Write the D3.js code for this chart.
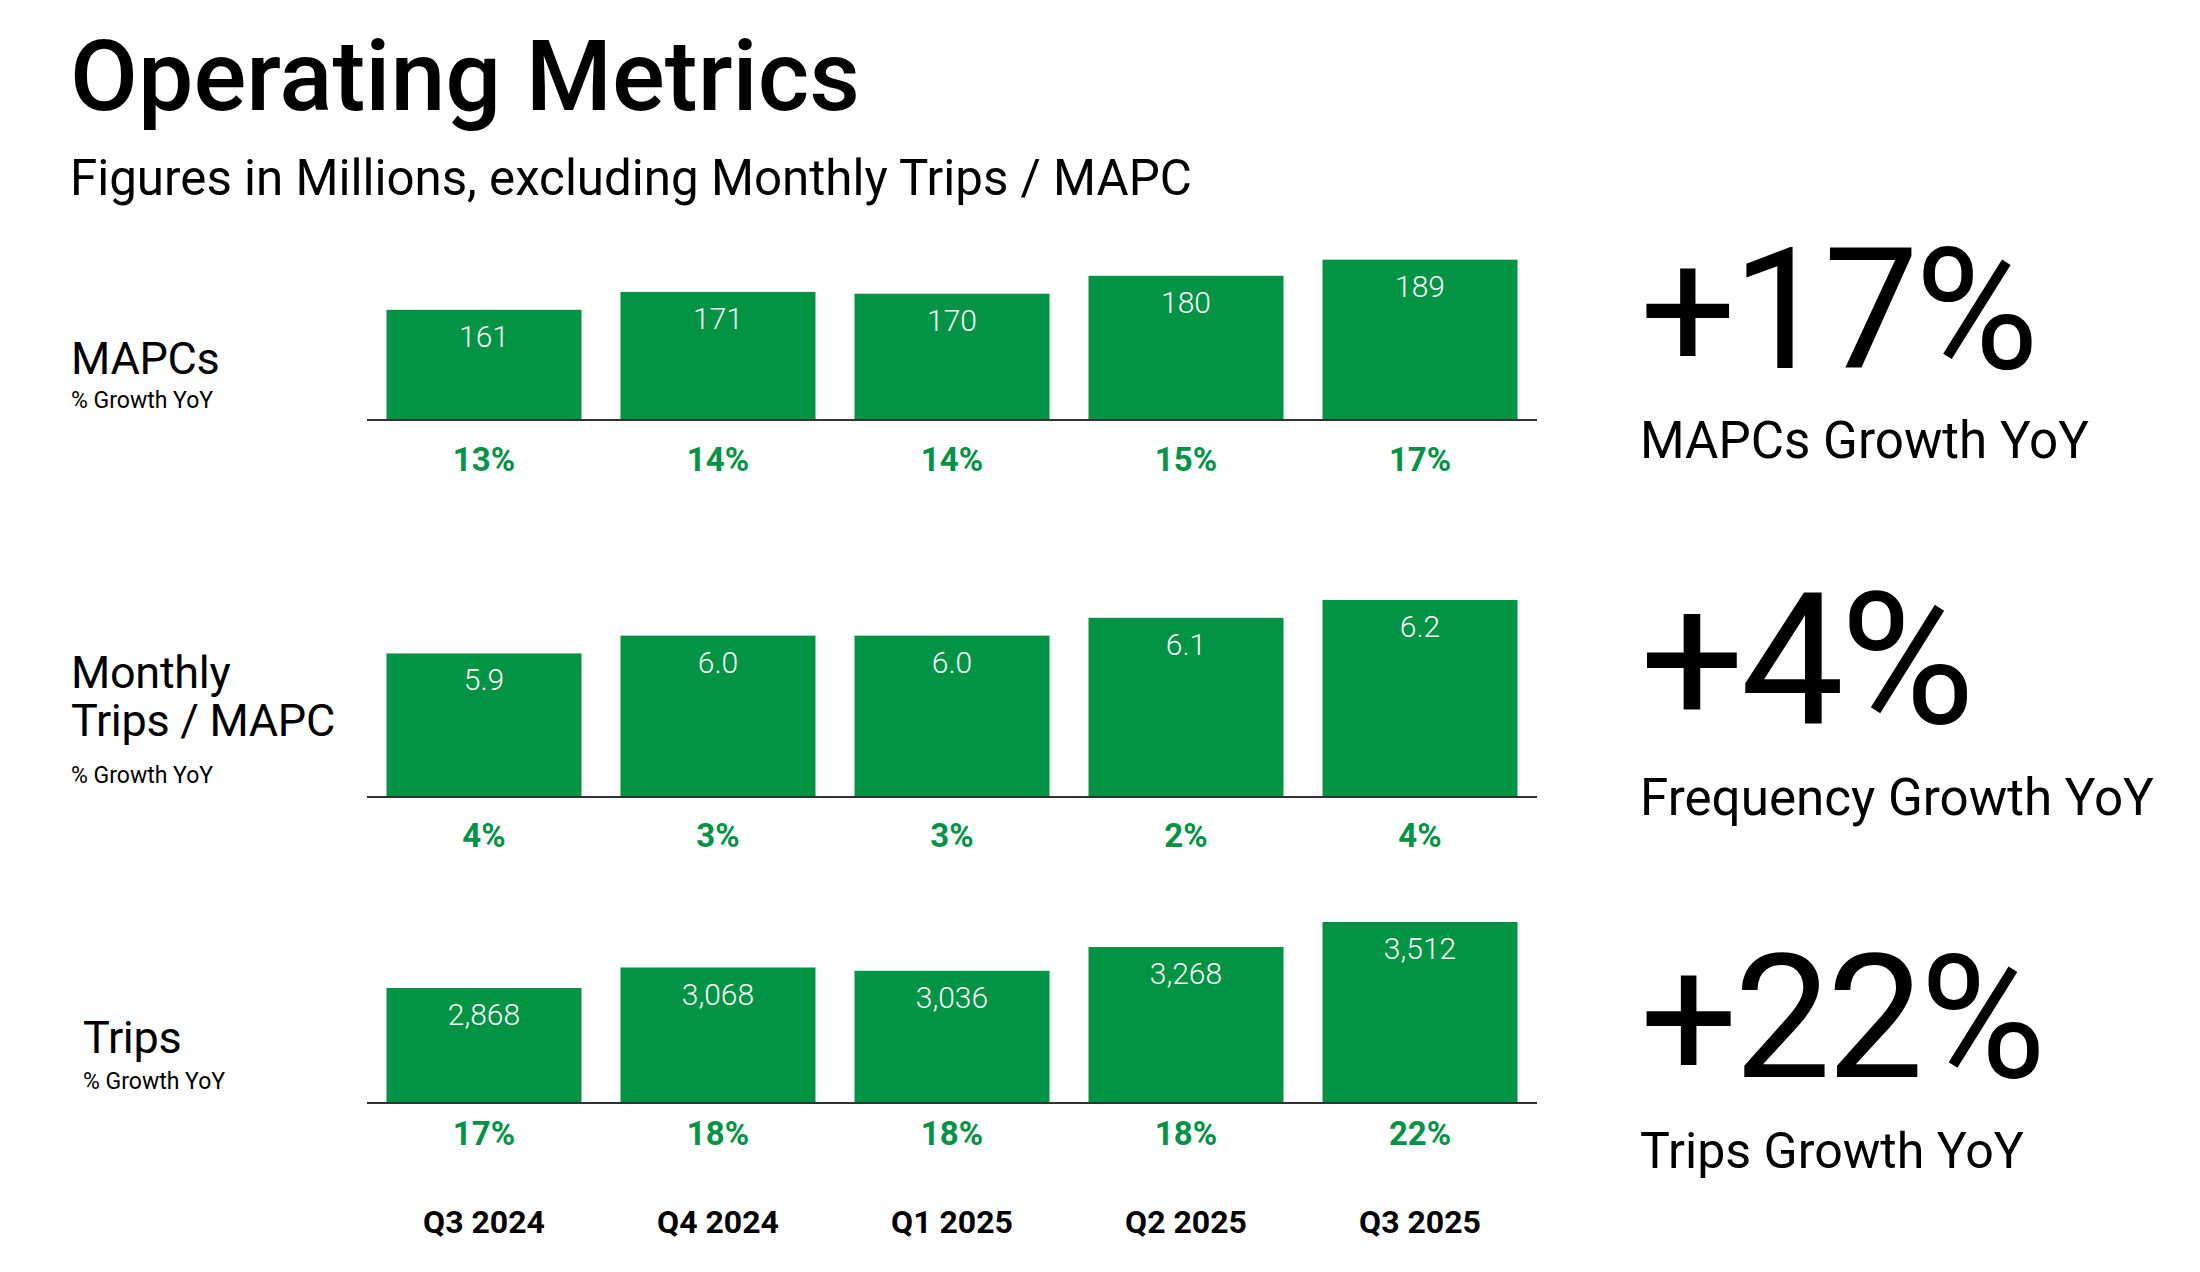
<!DOCTYPE html>
<html>
<head>
<meta charset="utf-8">
<script src="https://cdn.jsdelivr.net/npm/d3@7"></script>
<style>
  body { margin: 0; background: #fff; }
  svg { display: block; font-family: Roboto, "Noto Sans", sans-serif; }
</style>
</head>
<body>
<svg id="chart" width="2200" height="1272"></svg>
<script>
// data
const quarters = ["Q3 2024", "Q4 2024", "Q1 2025", "Q2 2025", "Q3 2025"];

const mapcs = [161, 171, 170, 180, 189];
const mapcsGrowth = ["13%", "14%", "14%", "15%", "17%"];

const tripsPerMapc = [5.9, 6.0, 6.0, 6.1, 6.2];
const tripsPerMapcGrowth = ["4%", "3%", "3%", "2%", "4%"];

const trips = [2868, 3068, 3036, 3268, 3512];
const tripsGrowth = ["17%", "18%", "18%", "18%", "22%"];

const headlineValues = ["+17%", "+4%", "+22%"];
const headlineLabels = ["MAPCs Growth YoY", "Frequency Growth YoY", "Trips Growth YoY"];

const green = "#009444";

let svg = d3.select("#chart");

// shrink / grow a text so it covers the width it has on the slide
var fit = (sel, w) => {
    sel.each(function () {
        let len = this.getComputedTextLength();
        let fs = parseFloat(d3.select(this).attr("font-size"));
        d3.select(this).attr("font-size", fs * w / len);
    });
};

// title block
svg.append("text")
    .attr("x", 70).attr("y", 110)
    .attr("font-size", 100).attr("font-weight", 500)
    .text("Operating Metrics")
    .call(fit, 790);

svg.append("text")
    .attr("x", 70).attr("y", 195)
    .attr("font-size", 46)
    .text("Figures in Millions, excluding Monthly Trips / MAPC")
    .call(fit, 1122);

let x = d3.scaleBand()
    .domain(quarters)
    .range([367, 1537])
    .paddingInner(0.1667)
    .paddingOuter(0.0833);

// one row per metric; the y scales do not start at zero on the slide
let panels = [
    { name: ["MAPCs"], nameX: 71, nameY: [374], subY: 408,
      values: mapcs, growth: mapcsGrowth, fmt: d3.format("d"),
      base: 419, y: d3.scaleLinear().domain([100, 200]).range([419, 240]), growthDy: 52 },
    { name: ["Monthly", "Trips / MAPC"], nameX: 71, nameY: [688, 736], subY: 783,
      values: tripsPerMapc, growth: tripsPerMapcGrowth, fmt: d3.format(".1f"),
      base: 796, y: d3.scaleLinear().domain([5.1, 6.2]).range([796, 600]), growthDy: 51 },
    { name: ["Trips"], nameX: 83, nameY: [1053], subY: 1089,
      values: trips, growth: tripsGrowth, fmt: d3.format(","),
      base: 1102, y: d3.scaleLinear().domain([1756, 3512]).range([1102, 922]), growthDy: 43 }
];

panels.forEach(p => {
    let g = svg.append("g");

    p.name.forEach((line, i) => {
        g.append("text")
            .attr("x", p.nameX).attr("y", p.nameY[i])
            .attr("font-size", 45)
            .attr("letter-spacing", -0.3)
            .text(line);
    });
    g.append("text")
        .attr("x", p.nameX).attr("y", p.subY)
        .attr("font-size", 23)
        .text("% Growth YoY");

    g.selectAll(".bar")
        .data(p.values)
        .join("rect")
        .attr("class", "bar")
        .attr("x", (d, i) => x(quarters[i]))
        .attr("y", d => p.y(d))
        .attr("width", x.bandwidth())
        .attr("height", d => p.base - p.y(d))
        .attr("fill", green);

    g.append("line")
        .attr("x1", 367).attr("x2", 1537)
        .attr("y1", p.base + 1).attr("y2", p.base + 1)
        .attr("stroke", "#333").attr("stroke-width", 2);

    g.selectAll(".val")
        .data(p.values)
        .join("text")
        .attr("class", "val")
        .attr("x", (d, i) => x(quarters[i]) + x.bandwidth() / 2)
        .attr("y", d => p.y(d) + 37)
        .attr("text-anchor", "middle")
        .attr("font-size", 30)
        .attr("font-weight", 300)
        .attr("fill", "#fff")
        .text(d => p.fmt(d));

    g.selectAll(".growth")
        .data(p.growth)
        .join("text")
        .attr("class", "growth")
        .attr("x", (d, i) => x(quarters[i]) + x.bandwidth() / 2)
        .attr("y", p.base + p.growthDy)
        .attr("text-anchor", "middle")
        .attr("font-size", 33)
        .attr("font-weight", 700)
        .attr("fill", green)
        .text(d => d);
});

// quarter labels under the last row
svg.selectAll(".quarter")
    .data(quarters)
    .join("text")
    .attr("class", "quarter")
    .attr("x", d => x(d) + x.bandwidth() / 2)
    .attr("y", 1233)
    .attr("text-anchor", "middle")
    .attr("font-size", 32)
    .attr("font-weight", 700)
    .text(d => d);

// headline numbers on the right
const bigY = [368, 723, 1077];
const bigW = [395, 330, 402];
const capY = [458, 815, 1168];
const capW = [449, 514, 384];

headlineValues.forEach((v, i) => {
    svg.append("text")
        .attr("x", 1640).attr("y", bigY[i])
        .attr("font-size", 170)
        .attr("letter-spacing", -4)
        .text(v)
        .call(fit, bigW[i]);
    svg.append("text")
        .attr("x", 1640).attr("y", capY[i])
        .attr("font-size", 52)
        .text(headlineLabels[i])
        .call(fit, capW[i]);
});
</script>
</body>
</html>
